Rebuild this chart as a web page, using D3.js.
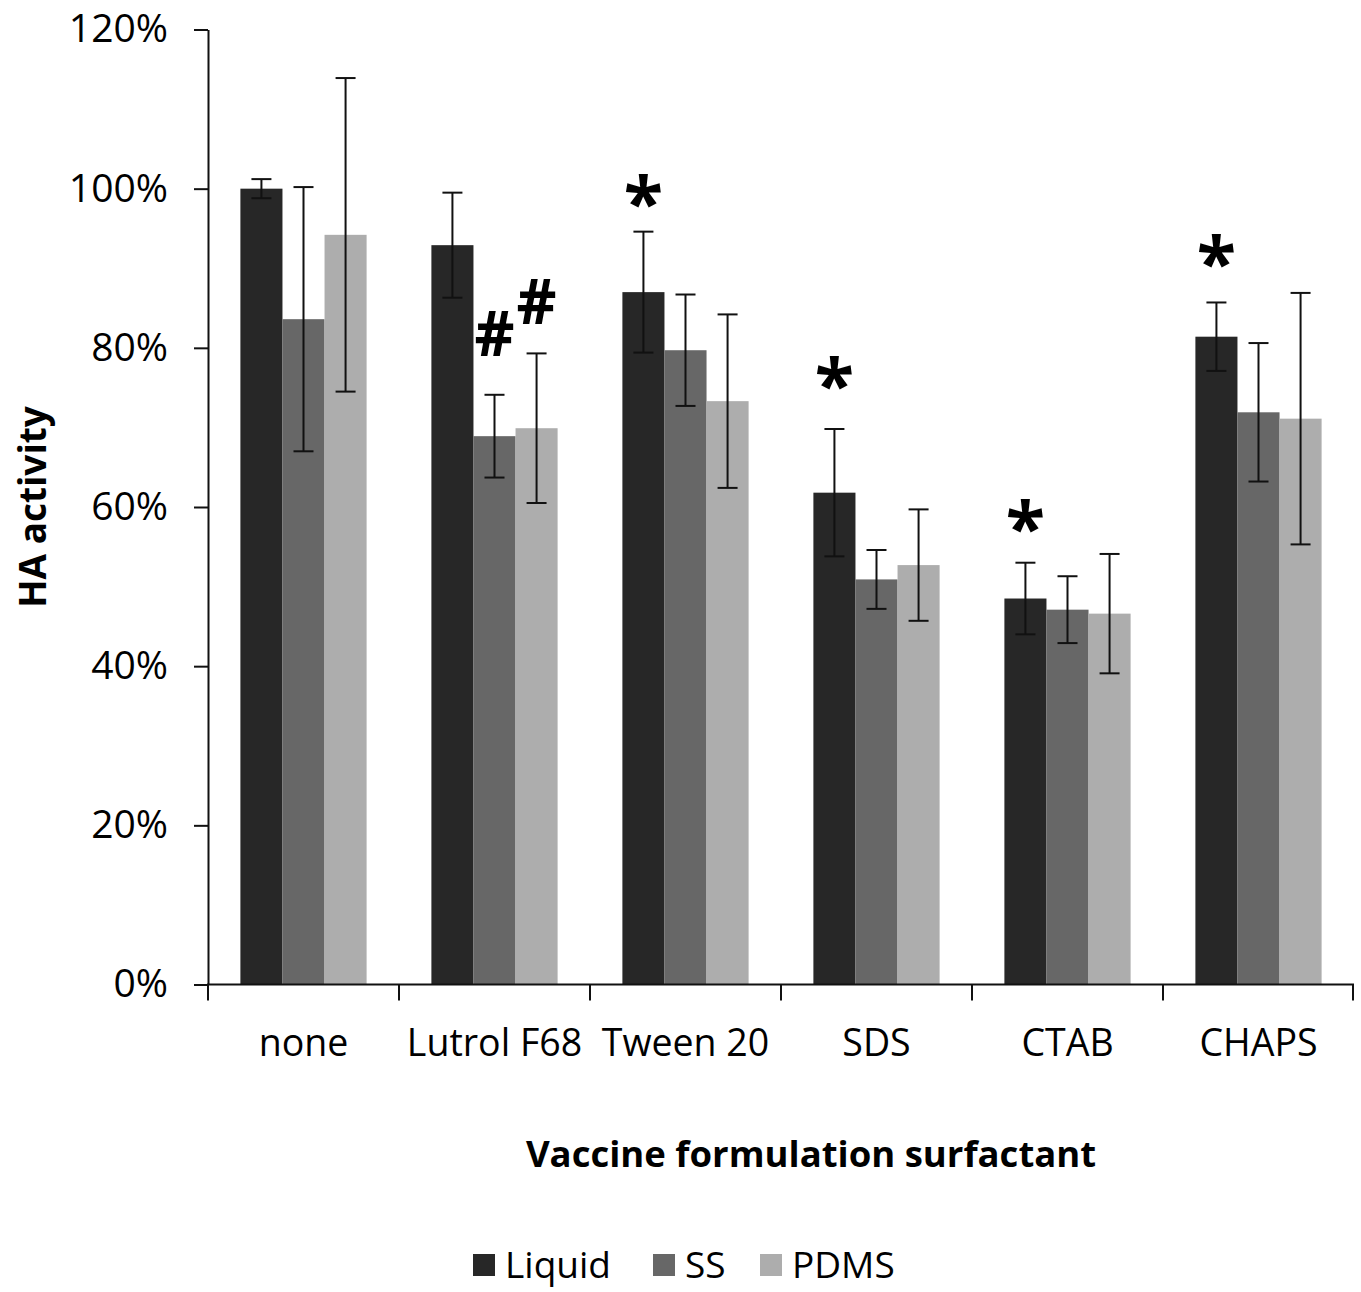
<!DOCTYPE html>
<html>
<head>
<meta charset="utf-8">
<script src="https://cdn.jsdelivr.net/npm/d3@7"></script>
<style>
  body { margin: 0; background: #fff; }
  text { font-family: "Open Sans", "Noto Sans", sans-serif; fill: #000; }
</style>
</head>
<body>
<div id="chart"></div>
<script>
// data
var categories = ["none", "Lutrol F68", "Tween 20", "SDS", "CTAB", "CHAPS"];
var seriesNames = ["Liquid", "SS", "PDMS"];
var liquid = [1.000, 0.929, 0.870, 0.618, 0.485, 0.814];
var liquidErr = [0.012, 0.066, 0.076, 0.080, 0.045, 0.043];
var ss = [0.836, 0.689, 0.797, 0.509, 0.471, 0.719];
var ssErr = [0.166, 0.052, 0.070, 0.037, 0.042, 0.087];
var pdms = [0.942, 0.699, 0.733, 0.527, 0.466, 0.711];
var pdmsErr = [0.197, 0.094, 0.109, 0.070, 0.075, 0.158];
var yTicks = [0, 0.2, 0.4, 0.6, 0.8, 1.0, 1.2];
// significance marks: category, series, symbol, level (activity units)
var markCats = ["Lutrol F68", "Lutrol F68", "Tween 20", "SDS", "CTAB", "CHAPS"];
var markSeries = ["SS", "PDMS", "Liquid", "Liquid", "Liquid", "Liquid"];
var markSymbols = ["#", "#", "*", "*", "*", "*"];
var markLevels = [0.817, 0.857, 0.998, 0.770, 0.590, 0.923];

var colors = {"Liquid": "#272727", "SS": "#676767", "PDMS": "#adadad"};

// svg area
var svgWidth = 1361;
var svgHeight = 1292;

var svg = d3.select("#chart")
    .append("svg")
    .attr("width", svgWidth)
    .attr("height", svgHeight);

var values = {"Liquid": liquid, "SS": ss, "PDMS": pdms};
var errors = {"Liquid": liquidErr, "SS": ssErr, "PDMS": pdmsErr};

var rows = [];
categories.forEach(function(c, i) {
  seriesNames.forEach(function(s) {
    rows.push({cat: c, series: s, value: values[s][i], err: errors[s][i]});
  });
});

// scales
var x0 = d3.scaleBand()
    .domain(categories)
    .range([208, 1354]);

var x1 = d3.scaleBand()
    .domain(seriesNames)
    .range([0, x0.bandwidth()])
    .paddingOuter(0.77);

var yScale = d3.scaleLinear()
    .domain([0, 1.2])
    .range([984.5, 29.5]);

// bars
svg.append("g").selectAll("rect")
    .data(rows)
    .enter()
    .append("rect")
    .attr("x", function(d) { return x0(d.cat) + x1(d.series); })
    .attr("width", x1.bandwidth())
    .attr("y", function(d) { return yScale(d.value); })
    .attr("height", function(d) { return yScale(0) - yScale(d.value); })
    .attr("fill", function(d) { return colors[d.series]; });

// error bars
var errG = svg.append("g")
    .attr("stroke", "#111")
    .attr("stroke-width", 2)
    .attr("fill", "none");

var capW = 10;
rows.forEach(function(d) {
  var cx = x0(d.cat) + x1(d.series) + x1.bandwidth() / 2;
  var yTop = yScale(d.value + d.err);
  var yBot = yScale(d.value - d.err);
  errG.append("line").attr("x1", cx).attr("x2", cx).attr("y1", yTop).attr("y2", yBot);
  errG.append("line").attr("x1", cx - capW).attr("x2", cx + capW).attr("y1", yTop).attr("y2", yTop);
  errG.append("line").attr("x1", cx - capW).attr("x2", cx + capW).attr("y1", yBot).attr("y2", yBot);
});

// y axis
var yAxis = d3.axisLeft(yScale)
    .tickValues(yTicks)
    .tickFormat(d3.format(".0%"))
    .tickSize(14)
    .tickSizeOuter(0)
    .tickPadding(26);

var yG = svg.append("g")
    .attr("transform", "translate(208,0)")
    .call(yAxis);
yG.selectAll("path, line").attr("stroke", "#111").attr("stroke-width", 2);
yG.selectAll("text").attr("font-size", 39).style("font-family", "'Open Sans'");

// x axis
svg.append("line")
    .attr("x1", 207).attr("x2", x0.range()[1])
    .attr("y1", yScale(0)).attr("y2", yScale(0))
    .attr("stroke", "#111").attr("stroke-width", 2);

var bounds = categories.map(function(c) { return x0(c); }).concat([x0.range()[1] - 1]);
svg.append("g").selectAll("line")
    .data(bounds)
    .enter()
    .append("line")
    .attr("x1", function(d) { return d; })
    .attr("x2", function(d) { return d; })
    .attr("y1", yScale(0))
    .attr("y2", yScale(0) + 16)
    .attr("stroke", "#111")
    .attr("stroke-width", 2);

svg.append("g").selectAll("text")
    .data(categories)
    .enter()
    .append("text")
    .attr("x", function(d) { return x0(d) + x0.bandwidth() / 2; })
    .attr("y", 1056)
    .attr("text-anchor", "middle")
    .attr("font-size", 37.5)
    .text(function(d) { return d; });

// significance marks
markCats.forEach(function(c, i) {
  var s = markSeries[i];
  var cx = x0(c) + x1(s) + x1.bandwidth() / 2;
  var cy = yScale(markLevels[i]);
  var isStar = markSymbols[i] === "*";
  svg.append("text")
      .attr("x", cx)
      .attr("y", isStar ? cy + 39 : cy + 22)
      .attr("text-anchor", "middle")
      .attr("font-weight", "bold")
      .attr("font-size", isStar ? 72 : 62)
      .text(markSymbols[i]);
});

// axis titles
svg.append("text")
    .attr("x", 811)
    .attr("y", 1167)
    .attr("text-anchor", "middle")
    .attr("font-weight", "bold")
    .attr("font-size", 36.5)
    .text("Vaccine formulation surfactant");

svg.append("text")
    .attr("transform", "translate(46,507) rotate(-90)")
    .attr("text-anchor", "middle")
    .attr("font-weight", "bold")
    .attr("font-size", 37)
    .text("HA activity");

// legend
var legendX = [473, 653, 760];
var legend = svg.append("g");
seriesNames.forEach(function(s, i) {
  legend.append("rect")
      .attr("x", legendX[i]).attr("y", 1254)
      .attr("width", 22).attr("height", 22)
      .attr("fill", colors[s]);
  legend.append("text")
      .attr("x", legendX[i] + 32).attr("y", 1278)
      .attr("font-size", 37)
      .text(s);
});
</script>
</body>
</html>
